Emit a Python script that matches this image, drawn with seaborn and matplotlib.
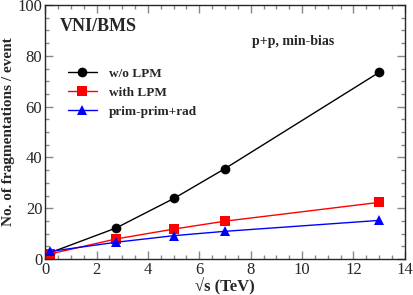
import matplotlib
matplotlib.use("Agg")
import matplotlib.pyplot as plt
import numpy as np
import pandas as pd
import seaborn as sns
from matplotlib.ticker import MultipleLocator

# sqrt(s) in TeV
sqrt_s = [0.2, 2.76, 5.02, 7.0, 13.0]
wo_lpm = [2.5, 12.2, 23.9, 35.6, 73.5]
with_lpm = [2.0, 7.9, 11.8, 14.9, 22.3]
prim_rad = [3.0, 6.6, 9.2, 10.9, 15.2]
labels = ["w/o LPM", "with LPM", "prim-prim+rad"]

df = pd.DataFrame({
    "x": sqrt_s * 3,
    "y": wo_lpm + with_lpm + prim_rad,
    "series": [labels[0]] * 5 + [labels[1]] * 5 + [labels[2]] * 5,
})

sns.set_style("ticks")
plt.rcParams["font.family"] = ["Liberation Serif", "DejaVu Serif"]
plt.rcParams["font.weight"] = "bold"

fig, ax = plt.subplots(figsize=(4.14, 2.95), dpi=100)
fig.subplots_adjust(left=0.109, right=0.978, top=0.983, bottom=0.122)

sns.lineplot(data=df, x="x", y="y", hue="series", style="series",
             palette=["black", "red", "blue"], markers=["o", "s", "^"],
             dashes=False, markersize=7, markeredgewidth=0, linewidth=1,
             ax=ax)

ax.set_xlim(0, 14)
ax.set_ylim(0, 100)
ax.xaxis.set_major_locator(MultipleLocator(2))
ax.xaxis.set_minor_locator(MultipleLocator(0.5))
ax.yaxis.set_major_locator(MultipleLocator(20))
ax.yaxis.set_minor_locator(MultipleLocator(5))
ax.tick_params(which="both", direction="in", top=True, right=True,
               labelsize=12, width=1, color="#888888", pad=2)
ax.tick_params(which="major", length=6)
ax.tick_params(which="minor", length=3)
for lab in ax.get_xticklabels() + ax.get_yticklabels():
    lab.set_fontweight("normal")
for s in ax.spines.values():
    s.set_linewidth(1)

ax.set_xlabel("√s (TeV)", fontsize=12, fontweight="bold", labelpad=0)
ax.set_ylabel("No. of fragmentations / event", fontsize=11, fontweight="bold",
              labelpad=2)

ax.text(0.04, 0.95, "VNI/BMS", transform=ax.transAxes, fontsize=13,
        fontweight="bold", va="top")
ax.text(0.575, 0.88, "p+p, min-bias", transform=ax.transAxes, fontsize=10,
        fontweight="bold", va="top")

ax.legend(loc="upper left", bbox_to_anchor=(0.03, 0.80), frameon=False,
          prop={"size": 9.5, "weight": "bold"}, handlelength=2.2,
          handletextpad=0.9, labelspacing=0.5, title=None)

fig.savefig("out.png", dpi=100)
